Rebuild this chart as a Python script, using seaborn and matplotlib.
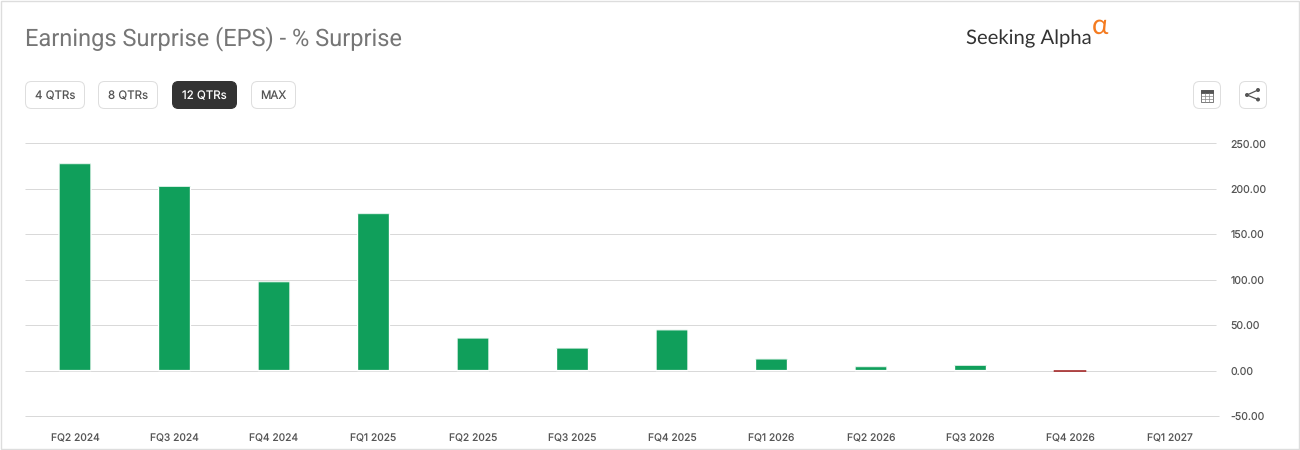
import numpy as np
import pandas as pd
import matplotlib
matplotlib.use("Agg")
import matplotlib.pyplot as plt
from matplotlib.patches import FancyBboxPatch, Rectangle, Circle
from matplotlib.transforms import IdentityTransform
import seaborn as sns

quarters = ["FQ2 2024", "FQ3 2024", "FQ4 2024", "FQ1 2025", "FQ2 2025", "FQ3 2025",
            "FQ4 2025", "FQ1 2026", "FQ2 2026", "FQ3 2026", "FQ4 2026", "FQ1 2027"]
surprise = [228.0, 203.0, 98.0, 173.0, 36.0, 25.0, 45.0, 13.0, 4.5, 6.0, -1.0, np.nan]
y_ticks = [250, 200, 150, 100, 50, 0, -50]
buttons = [("4 QTRs", 25, 60, False), ("8 QTRs", 98, 60, False),
           ("12 QTRs", 172, 65, True), ("MAX", 251, 45, False)]

GREEN = "#109f5b"
RED = "#a52a2a"
GRID = "#d9d9d9"
W, H = 1300, 450
PX = 0.72  # one pixel, in points

sns.set_theme(style="white")
plt.rcParams["font.family"] = ["Inter", "DejaVu Sans"]
plt.rcParams["text.hinting"] = "no_hinting"
plt.rcParams["text.hinting_factor"] = 8

fig = plt.figure(figsize=(W / 100, H / 100), dpi=100, facecolor="white")

# Chart area: x 25-1219 px, y 143.5 (250) to 416 (-50) px
ax = fig.add_axes([25.25 / W, 1 - 416 / H, (1219 - 25) / W, (416 - 143.5) / H])
frame = pd.DataFrame({"quarter": quarters, "value": surprise})
frame["sign"] = np.where(frame["value"] < 0, "neg", "pos")
sns.barplot(data=frame, x="quarter", y="value", hue="sign",
            palette={"pos": GREEN, "neg": RED}, dodge=False, width=0.322,
            legend=False, saturation=1, ax=ax, zorder=3)
ax.set_xlim(-0.5, 11.5)
ax.set_ylim(-50, 250)
ax.set_xlabel("")
ax.set_ylabel("")
for side in ax.spines.values():
    side.set_visible(False)
ax.hlines(y_ticks[:-1], -0.5, 11.47, color=GRID, lw=PX, zorder=1, clip_on=False)
ax.hlines(y_ticks[-1], -0.5, 11.5, color=GRID, lw=PX, zorder=1, clip_on=False)
ax.yaxis.tick_right()
ax.set_yticks(y_ticks)
ax.set_yticklabels([f"{v:.2f}" for v in y_ticks])
ax.tick_params(axis="y", length=0, pad=8, labelsize=7.6, labelcolor="#555555")
ax.tick_params(axis="x", length=0, pad=12.5, labelsize=7.4, labelcolor="#555555")

# Slightly rounded bar tops; the sub-pixel negative bar gets an outline so it stays visible
fig.canvas.draw()
for bar in ax.patches:
    bar.set_snap(False)
    (x0, y0), (x1, y1) = ax.transData.transform(bar.get_bbox().get_points())
    if not np.isfinite([x0, y0, x1, y1]).all():
        continue
    if abs(y1 - y0) < 2:
        bar.set_edgecolor(RED)
        bar.set_linewidth(0.5)
        continue
    clip = FancyBboxPatch((x0 - 1, min(y0, y1) - 6), x1 - x0 + 2, abs(y1 - y0) + 6,
                          boxstyle="round,pad=0,rounding_size=2.5",
                          transform=IdentityTransform())
    bar.set_clip_path(clip)

# Page furniture, positioned in pixels
ov = fig.add_axes([0, 0, 1, 1], zorder=5)
ov.set_xlim(0, W)
ov.set_ylim(H, 0)
ov.axis("off")
ov.patch.set_alpha(0)

ov.add_patch(Rectangle((0.5, 0.5), W - 2, H - 2, fill=False, ec="#dddddd", lw=1.0))
ov.text(25, 39, "Earnings Surprise (EPS) - % Surprise", fontsize=17,
        color="#767676", va="center", ha="left", family=["Roboto", "DejaVu Sans"])

for label, x, w, active in buttons:
    ov.add_patch(FancyBboxPatch((x + 0.5, 81.5), w - 1, 27,
                                boxstyle="round,pad=0,rounding_size=6",
                                fc="#333333" if active else "white",
                                ec="#333333" if active else "#dedede", lw=PX))
    ov.text(x + w / 2, 96, label, fontsize=8.3, ha="center", va="center",
            color="white" if active else "#555555")

ov.text(966, 39, "Seeking Alpha", fontsize=14.6, color="#333333", va="center",
        ha="left", family=["Lato", "DejaVu Sans"])
ov.text(1092, 26, "\u03b1", fontsize=20, color="#f47b20", va="center", ha="left",
        family=["Lato", "DejaVu Sans"])

# Table and share buttons
for x in (1193, 1239):
    ov.add_patch(FancyBboxPatch((x + 0.5, 81.5), 27, 27,
                                boxstyle="round,pad=0,rounding_size=6",
                                fc="white", ec="#dedede", lw=PX))
ov.add_patch(Rectangle((1201, 89.5), 12, 12.5, fc="white", ec="#666666", lw=0.6))
ov.add_patch(Rectangle((1201, 89.5), 12, 3.5, fc="#555555", ec="#555555", lw=0.6))
ov.vlines([1205, 1209], 93, 102, color="#888888", lw=0.5)
ov.hlines([96, 99], 1201, 1213, color="#888888", lw=0.5)

share_pts = [(1247, 95), (1258, 90), (1258, 99.5)]
ov.plot([share_pts[1][0], share_pts[0][0], share_pts[2][0]],
        [share_pts[1][1], share_pts[0][1], share_pts[2][1]], color="#555555", lw=0.9)
for px, py in share_pts:
    ov.add_patch(Circle((px, py), 2, fc="#555555", ec="none"))

fig.savefig("out.png", dpi=100, facecolor="white")
